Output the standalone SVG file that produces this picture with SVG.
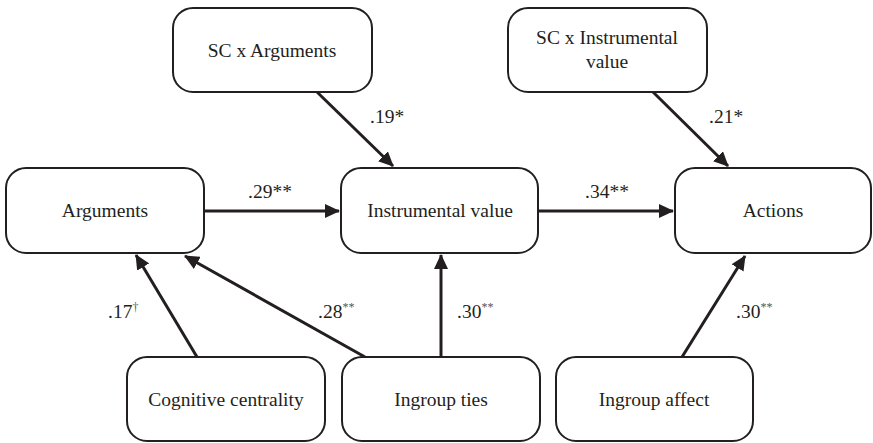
<svg xmlns="http://www.w3.org/2000/svg" width="873" height="443" viewBox="0 0 873 443">
<defs>
<marker id="ah" markerUnits="userSpaceOnUse" markerWidth="16" markerHeight="14" refX="14" refY="7" orient="auto">
<path d="M0,0 L15,7 L0,14 Z" fill="#231f20"/>
</marker>
<style>
.box{fill:#fff;stroke:#231f20;stroke-width:2}
.t{font-size:19.5px;fill:#231f20;text-anchor:middle}
.l{font-size:19.5px;fill:#231f20}
.sup{font-size:12px;fill:#555}
.c{stroke:#231f20;stroke-width:3;fill:none;marker-end:url(#ah)}
</style>
</defs>
<g id="connectors" font-family="Liberation Serif, DejaVu Serif, serif">
<line class="c" x1="317" y1="92" x2="393" y2="166"/>
<line class="c" x1="653" y1="92" x2="728" y2="166"/>
<line class="c" x1="205" y1="211" x2="339" y2="211"/>
<line class="c" x1="539" y1="211" x2="673" y2="211"/>
<line class="c" x1="197" y1="357" x2="136" y2="255"/>
<line class="c" x1="365" y1="357" x2="185" y2="256"/>
<line class="c" x1="441" y1="357" x2="441" y2="255"/>
<line class="c" x1="682" y1="357" x2="745" y2="256"/>
<text class="l" x="370" y="123">.19*</text>
<text class="l" x="709" y="123">.21*</text>
<text class="l" x="248" y="198">.29**</text>
<text class="l" x="585" y="198">.34**</text>
<text class="l" x="108" y="318">.17<tspan class="sup" dy="-7">†</tspan></text>
<text class="l" x="318" y="318">.28<tspan class="sup" dy="-7">**</tspan></text>
<text class="l" x="457" y="318">.30<tspan class="sup" dy="-7">**</tspan></text>
<text class="l" x="736" y="318">.30<tspan class="sup" dy="-7">**</tspan></text>
</g>
<g id="sc-arguments" font-family="Liberation Serif, DejaVu Serif, serif">
<rect class="box" x="173" y="8" width="199" height="84" rx="20"/>
<text class="t" x="272" y="57">SC x Arguments</text>
</g>
<g id="sc-instrumental" font-family="Liberation Serif, DejaVu Serif, serif">
<rect class="box" x="508" y="8" width="199" height="84" rx="20"/>
<text class="t" x="607" y="44">SC x Instrumental</text>
<text class="t" x="607" y="68">value</text>
</g>
<g id="arguments" font-family="Liberation Serif, DejaVu Serif, serif">
<rect class="box" x="6" y="168" width="198" height="85" rx="20"/>
<text class="t" x="105" y="217">Arguments</text>
</g>
<g id="instrumental" font-family="Liberation Serif, DejaVu Serif, serif">
<rect class="box" x="341" y="168" width="197" height="85" rx="20"/>
<text class="t" x="440" y="217">Instrumental value</text>
</g>
<g id="actions" font-family="Liberation Serif, DejaVu Serif, serif">
<rect class="box" x="675" y="168" width="196" height="85" rx="20"/>
<text class="t" x="773" y="217">Actions</text>
</g>
<g id="cognitive" font-family="Liberation Serif, DejaVu Serif, serif">
<rect class="box" x="127" y="357" width="198" height="84" rx="20"/>
<text class="t" x="226" y="406">Cognitive centrality</text>
</g>
<g id="ingroup-ties" font-family="Liberation Serif, DejaVu Serif, serif">
<rect class="box" x="342" y="357" width="198" height="84" rx="20"/>
<text class="t" x="441" y="406">Ingroup ties</text>
</g>
<g id="ingroup-affect" font-family="Liberation Serif, DejaVu Serif, serif">
<rect class="box" x="556" y="357" width="197" height="84" rx="20"/>
<text class="t" x="654" y="406">Ingroup affect</text>
</g>
</svg>
